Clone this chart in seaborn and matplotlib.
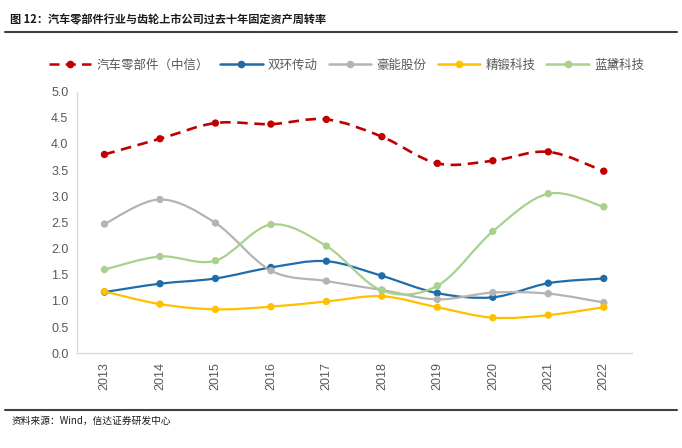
import numpy as np
import pandas as pd
import matplotlib
matplotlib.use("Agg")
import matplotlib.pyplot as plt
import seaborn as sns
from matplotlib.path import Path
from matplotlib.patches import PathPatch
from matplotlib.lines import Line2D

# data
years = ["2013", "2014", "2015", "2016", "2017", "2018", "2019", "2020", "2021", "2022"]
auto_parts = [3.80, 4.10, 4.40, 4.38, 4.47, 4.14, 3.63, 3.68, 3.85, 3.48]
shuanghuan = [1.17, 1.33, 1.43, 1.64, 1.76, 1.48, 1.15, 1.07, 1.34, 1.43]
haoneng = [2.47, 2.94, 2.49, 1.58, 1.38, 1.21, 1.03, 1.16, 1.14, 0.97]
jingduan = [1.18, 0.94, 0.84, 0.89, 0.99, 1.09, 0.88, 0.68, 0.73, 0.88]
landai = [1.60, 1.85, 1.77, 2.46, 2.05, 1.20, 1.29, 2.33, 3.05, 2.80]

series_names = ["汽车零部件（中信）", "双环传动", "豪能股份", "精锻科技", "蓝黛科技"]
series_values = [auto_parts, shuanghuan, haoneng, jingduan, landai]
colors = ["#C00000", "#1F6CAB", "#B4B4B4", "#FFC000", "#A9D18E"]
styles = [(0, (4, 2.5)), "-", "-", "-", "-"]

sns.set_theme(style="white")
plt.rcParams["font.family"] = ["Liberation Sans", "Noto Sans CJK SC", "DejaVu Sans"]

df = pd.DataFrame({
    "year": years * len(series_names),
    "value": np.concatenate(series_values),
    "series": np.repeat(series_names, len(years)),
})


def smooth_path(xs, ys):
    """Excel-like smoothed line through the points (cubic Bezier segments)"""
    pts = np.column_stack([xs, ys]).astype(float)
    n = len(pts)
    verts = [pts[0]]
    codes = [Path.MOVETO]
    for i in range(n - 1):
        p0 = pts[i - 1] if i > 0 else pts[i]
        p1 = pts[i]
        p2 = pts[i + 1]
        p3 = pts[i + 2] if i + 2 < n else pts[i + 1]
        verts += [p1 + (p2 - p0) / 6, p2 - (p3 - p1) / 6, p2]
        codes += [Path.CURVE4] * 3
    return Path(verts, codes)


fig = plt.figure(figsize=(6.82, 4.48), dpi=100)
ax = fig.add_axes([0.1125, 0.2114, 0.8135, 0.5840])

sns.scatterplot(data=df, x="year", y="value", hue="series", palette=colors,
                s=28, edgecolor="none", legend=False, ax=ax, zorder=3)

xpos = np.arange(len(years))
for vals, c, ls in zip(series_values, colors, styles):
    patch = PathPatch(smooth_path(xpos, vals), facecolor="none", edgecolor=c,
                      lw=1.9 if c == "#C00000" else 1.6, linestyle=ls, zorder=2)
    ax.add_patch(patch)

ax.set_xlim(-0.5, len(years) - 0.5)
ax.set_ylim(0, 5)
ax.set_yticks(np.arange(0, 5.01, 0.5))
ax.set_yticklabels([f"{v:.1f}" for v in np.arange(0, 5.01, 0.5)])
ax.set_xlabel("")
ax.set_ylabel("")
ax.tick_params(axis="x", rotation=90, labelsize=9, colors="#595959", length=0, pad=6)
ax.tick_params(axis="y", labelsize=9, colors="#595959", length=0, pad=6)
for side in ["top", "right"]:
    ax.spines[side].set_visible(False)
for side in ["left", "bottom"]:
    ax.spines[side].set_color("#D9D9D9")
    ax.spines[side].set_linewidth(1)
ax.grid(False)

handles = [Line2D([], [], color=c, lw=1.8, linestyle=ls, marker="o", markersize=4.5)
           for c, ls in zip(colors, styles)]
leg = fig.legend(handles, series_names, loc="center", bbox_to_anchor=(0.508, 0.855), ncol=5,
                 frameon=False, handlelength=3.4, columnspacing=0.9, handletextpad=0.4,
                 prop={"family": ["Noto Sans CJK SC"], "size": 9})
for t in leg.get_texts():
    t.set_color("#595959")

# title, rules and source note
fig.text(0.015, 0.955, "图 12：汽车零部件行业与齿轮上市公司过去十年固定资产周转率",
         fontsize=8, fontweight="bold", color="#1A1A1A", va="center",
         family=["Noto Sans CJK SC", "DejaVu Sans"])
fig.add_artist(Line2D([0.008, 0.992], [0.928, 0.928], color="#404040", lw=1.5))
fig.add_artist(Line2D([0.008, 0.992], [0.085, 0.085], color="#404040", lw=1.5))
fig.text(0.017, 0.06, "资料来源：Wind，信达证券研发中心", fontsize=7, style="italic",
         color="#1A1A1A", va="center", family=["Noto Sans CJK SC", "DejaVu Sans"])

fig.savefig("out.png", dpi=100)
plt.close(fig)
